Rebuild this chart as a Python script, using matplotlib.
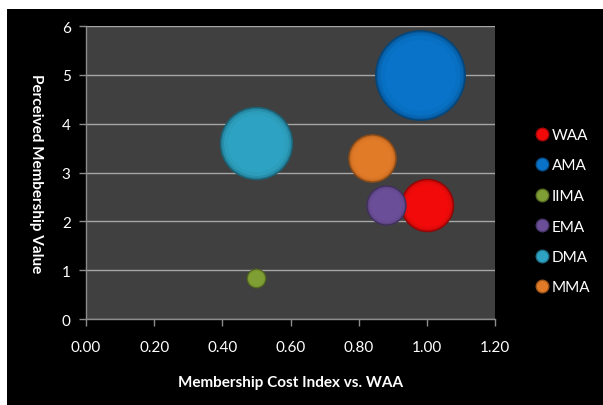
import matplotlib
matplotlib.use("Agg")
import matplotlib.pyplot as plt
import numpy as np
from matplotlib.lines import Line2D
from matplotlib.patches import Rectangle
import matplotlib.colors as mcolors

plt.rcParams['font.family'] = ['Lato', 'DejaVu Sans']

categories = ["WAA", "AMA", "IIMA", "EMA", "DMA", "MMA"]
cost_index = [1.00, 0.98, 0.50, 0.88, 0.50, 0.84]
perceived_value = [2.33, 5.0, 0.83, 2.33, 3.6, 3.3]
bubble_size = [34, 100, 4.3, 19, 65, 28]
colors = ["#f20a0a", "#0873c9", "#7f9e33", "#6a4e98", "#2ea2c2", "#e27b27"]
x_ticks = [0.0, 0.2, 0.4, 0.6, 0.8, 1.0, 1.2]
y_ticks = [0, 1, 2, 3, 4, 5, 6]

W, H = 603, 406
fig = plt.figure(figsize=(W / 100, H / 100), dpi=100, facecolor="white")
fig.patches.append(Rectangle((7 / W, 0), 1, (H - 10) / H, transform=fig.transFigure,
                             facecolor="black", edgecolor="none", zorder=-10))

ax = fig.add_axes([86 / W, 1 - 320 / H, (495 - 86) / W, (320 - 27) / H])
ax.set_facecolor("#404040")
ax.set_xlim(0, 1.2)
ax.set_ylim(0, 6)
ax.set_xticks(x_ticks)
ax.set_xticklabels([f"{v:.2f}" for v in x_ticks])
ax.set_yticks(y_ticks)
ax.grid(axis="y", color="#a6a6a6", linewidth=1.0)
ax.set_axisbelow(True)
for side in ["top", "right"]:
    ax.spines[side].set_visible(False)
for side in ["left", "bottom"]:
    ax.spines[side].set_color("#8c8c8c")
    ax.spines[side].set_linewidth(1.0)
ax.tick_params(colors="#8c8c8c", labelcolor="white", labelsize=11, length=5, width=1)
ax.tick_params(axis="y", pad=6)
ax.tick_params(axis="x", pad=10)

max_diam_pt = 2 * 44.7 * 0.72
maxsz = max(bubble_size)


def shade(c, f):
    r, g, b = mcolors.to_rgb(c)
    if f < 1:
        return (r * f, g * f, b * f)
    t = f - 1
    return (r + (1 - r) * t, g + (1 - g) * t, b + (1 - b) * t)


for i, (xv, yv, sz, col) in enumerate(zip(cost_index, perceived_value, bubble_size, colors)):
    s = (max_diam_pt ** 2) * sz / maxsz
    z = 3 + i
    ax.scatter([xv], [yv], s=s, color=shade(col, 0.75), edgecolors=shade(col, 0.6),
               linewidths=1.0, zorder=z)
    for k, f in zip([0.96, 0.9, 0.8], [0.88, 0.97, 1.0]):
        ax.scatter([xv], [yv], s=s * k * k, color=shade(col, f), linewidths=0, zorder=z)

ax.set_xlabel("Membership Cost Index vs. WAA", color="white", fontsize=11,
              fontweight="bold", labelpad=15)
ax.set_ylabel("Perceived Membership Value", color="white", fontsize=11,
              fontweight="bold", rotation=270, labelpad=0)
ax.yaxis.set_label_coords(-0.14, 0.5)

handles = [Line2D([], [], marker="o", linestyle="none", markersize=9,
                  markerfacecolor=c, markeredgecolor=shade(c, 0.7)) for c in colors]
fig.legend(handles, categories, loc="upper left", bbox_to_anchor=(533 / W, 1 - 129 / H),
           frameon=False, labelcolor="white", fontsize=11, handletextpad=0.05,
           handlelength=1.2, labelspacing=1.08, borderpad=0, borderaxespad=0)

fig.savefig("out.png", dpi=100, facecolor=fig.get_facecolor())
